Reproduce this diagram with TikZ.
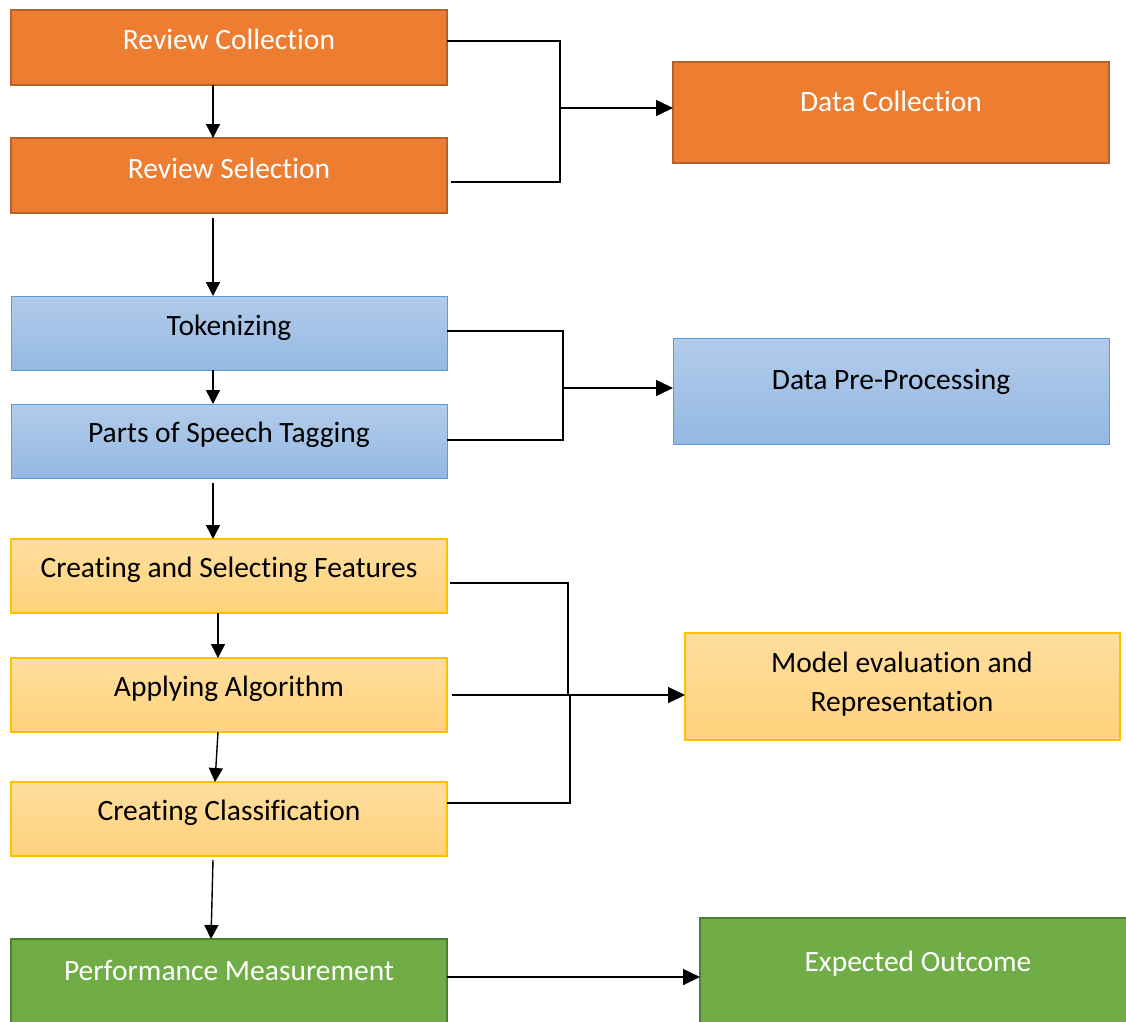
\documentclass[tikz,border=0pt]{standalone}
\usepackage{fontspec}
\setmainfont{Carlito}[RawFeature={-liga;-clig;-calt;-dlig}]
\usetikzlibrary{arrows.meta}
\newcommand{\tI}{t\kern0pt i}
\definecolor{orfill}{HTML}{ED7D31}
\definecolor{ordraw}{HTML}{B4622A}
\definecolor{blutop}{HTML}{B2CCEA}
\definecolor{blubot}{HTML}{94B8E2}
\definecolor{bludraw}{HTML}{5B9BD5}
\definecolor{yeltop}{HTML}{FFDE9E}
\definecolor{yelbot}{HTML}{FFD27C}
\definecolor{yeldraw}{HTML}{FFC000}
\definecolor{grfill}{HTML}{70AD47}
\definecolor{grdraw}{HTML}{507E32}
\tikzset{
  box/.style={rectangle, anchor=north west, inner sep=0pt, outer sep=0pt},
  orbox/.style={box, fill=orfill, draw=ordraw, line width=2.2pt},
  blbox/.style={box, top color=blutop, bottom color=blubot, draw=bludraw, line width=1pt},
  ylbox/.style={box, top color=yeltop, bottom color=yelbot, draw=yeldraw, line width=1.2pt},
  grbox/.style={box, fill=grfill, draw=grdraw, line width=2pt},
  txt/.style={inner sep=0pt, font=\fontsize{29.5}{39}\selectfont, text height=19pt, text depth=0pt},
  wtxt/.style={txt, text=white},
  arr/.style={draw=black, line width=1.4pt, -{Triangle[length=14pt,width=14pt]}},
  bigarr/.style={draw=black, line width=1.6pt, -{Triangle[length=17pt,width=16pt]}},
  ln/.style={draw=black, line width=1.4pt},
}
\begin{document}
\begin{tikzpicture}[x=1pt,y=-1pt]
\clip (0,0) rectangle (1126,1021);
\fill[white] (0,0) rectangle (1126,1021);
% boxes
\node[orbox, minimum width=436, minimum height=75] (rc) at (11,10) {};
\node[orbox, minimum width=436, minimum height=75] (rs) at (11,138) {};
\node[orbox, minimum width=436, minimum height=101] (dc) at (673,62) {};
\node[blbox, minimum width=436, minimum height=74] (tok) at (11,296) {};
\node[blbox, minimum width=436, minimum height=74] (pos) at (11,404) {};
\node[blbox, minimum width=436, minimum height=106] (dpp) at (673,338) {};
\node[ylbox, minimum width=436, minimum height=74] (csf) at (11,539) {};
\node[ylbox, minimum width=436, minimum height=74] (aa) at (11,658) {};
\node[ylbox, minimum width=436, minimum height=74] (cc) at (11,782) {};
\node[ylbox, minimum width=435, minimum height=107] (mer) at (685,633) {};
\node[grbox, minimum width=436, minimum height=100] (pm) at (11,939) {};
\node[grbox, minimum width=440, minimum height=120] (eo) at (700,918) {};
% texts
\node[wtxt] (rct) at (229,39.5) {Review Collec\tI on};
\node[wtxt] (rst) at (229,168.5) {Review Selec\tI on};
\node[wtxt] (dct) at (891,102) {Data Collec\tI on};
\node[txt] (tokt) at (229,325.5) {Tokenizing};
\node[txt] (post) at (229,432.5) {Parts of Speech Tagging};
\node[txt] (dppt) at (891,379.5) {Data Pre-Processing};
\node[txt] (csft) at (229,567.5) {Crea\tI ng and Selec\tI ng Features};
\node[txt] (aat) at (229,686.5) {Applying Algorithm};
\node[txt] (cct) at (229,810.5) {Crea\tI ng Classifica\tI on};
\node[txt] (mert1) at (902,662.5) {Model evalua\tI on and};
\node[txt] (mert2) at (902,701.5) {Representa\tI on};
\node[wtxt] (pmt) at (229,970.5) {Performance Measurement};
\node[wtxt] (eot) at (918,962) {Expected Outcome};
% vertical arrows
\draw[arr] ([xshift=-16]rc.south) -- ([xshift=-16]rs.north);
\draw[arr] ([xshift=-16,yshift=-5]rs.south) -- ([xshift=-16]tok.north);
\draw[arr] ([xshift=-16]tok.south) -- ([xshift=-16]pos.north);
\draw[arr] ([xshift=-16,yshift=-5]pos.south) -- ([xshift=-16]csf.north);
\draw[arr] ([xshift=-11]csf.south) -- ([xshift=-11]aa.north);
\draw[arr] ([xshift=-11]aa.south) -- ([xshift=-14]cc.north);
\draw[arr] ([xshift=-16,yshift=-4]cc.south) -- ([xshift=-18]pm.north);
% group 1
\coordinate (j1) at (560,108);
\draw[ln] ([yshift=6.5]rc.east) -| (j1);
\draw[ln] ([xshift=4,yshift=-6.5]rs.east) -| (j1);
\draw[bigarr] (j1) -- ([yshift=4.5]dc.west);
% group 2
\coordinate (j2) at (563,388);
\draw[ln] ([yshift=2]tok.east) -| (j2);
\draw[ln] ([yshift=1]pos.east) -| (j2);
\draw[bigarr] (j2) -- ([yshift=3]dpp.west);
% group 3
\coordinate (j3) at (568,695);
\draw[ln] ([xshift=3,yshift=-7]csf.east) -| (j3);
\draw[ln] ([xshift=5]aa.east) -- (j3);
\draw[ln] ([yshift=16]cc.east) -| ([xshift=2]j3);
\draw[bigarr] (j3) -- ([yshift=-8.5]mer.west);
% final
\path (pm.north east) ++(0,38) coordinate (pmr);
\draw[bigarr] (pmr) -- (pmr -| eo.west);
\end{tikzpicture}
\end{document}
